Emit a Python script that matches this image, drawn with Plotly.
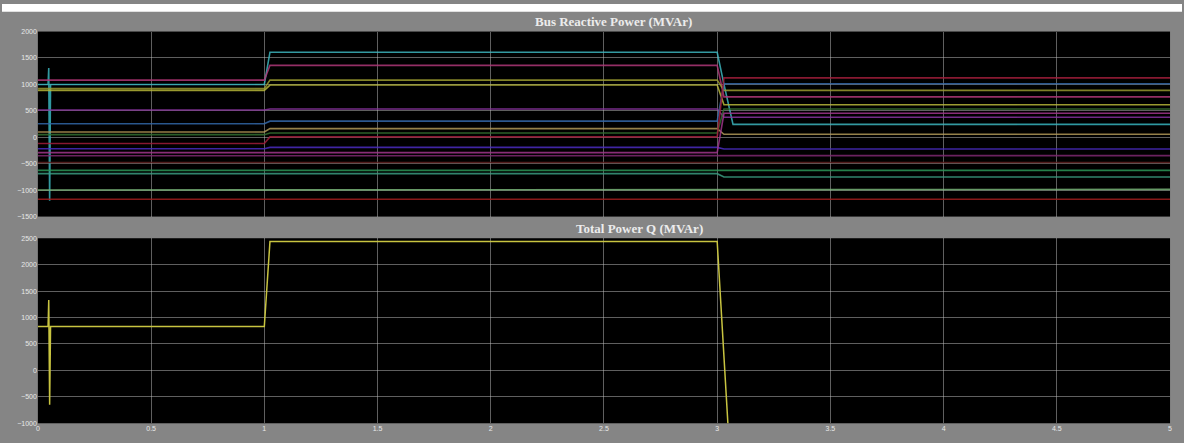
import plotly.graph_objects as go

# ---- data ----
time_bus = [0, 0.045, 0.048, 0.052, 0.056, 1.0, 1.025, 3.0, 3.03, 3.07, 5.0]

bus_colors = ["#3cb4bc", "#b03878", "#9a9a30", "#b8b83a", "#8a34a0", "#3468a8",
              "#b09858", "#347030", "#a01e3a", "#4a2cc0", "#a0358c", "#602020",
              "#2c9658", "#3a9c80", "#78b478", "#a01e1e", "#7e2870"]

bus_q = [
    [1000, 1000, 1310, -1200, 1000, 1000, 1609, 1609, 1000, 244, 244],
    [1082, 1082, 1082, 1082, 1082, 1082, 1361, 1361, 765, 765, 765],
    [920, 920, 920, 920, 920, 920, 1082, 1082, 888, 888, 888],
    [888, 888, 888, 888, 888, 888, 988, 988, 616, 616, 616],
    [516, 516, 516, 516, 516, 516, 535, 535, 380, 380, 380],
    [255, 255, 255, 255, 255, 255, 305, 305, 1013, 1013, 1013],
    [100, 100, 100, 100, 100, 100, 163, 163, 57, 57, 57],
    [50, 50, 50, 50, 50, 50, 82, 82, 535, 535, 535],
    [-117, -117, -117, -117, -117, -117, 7, 7, 1124, 1124, 1124],
    [-216, -216, -216, -216, -216, -216, -191, -191, -222, -222, -222],
    [-290, -290, -290, -290, -290, -290, -290, -290, 454, 454, 454],
    [-477, -477, -477, -477, -477, -477, -489, -489, -477, -477, -477],
    [-626, -626, -626, -626, -626, -626, -626, -626, -626, -626, -626],
    [-688, -688, -688, -688, -688, -688, -688, -688, -750, -750, -750],
    [-998, -998, -998, -998, -998, -998, -998, -998, -985, -985, -985],
    [-1172, -1172, -1172, -1172, -1172, -1172, -1172, -1172, -1172, -1172, -1172],
    [-350, -350, -350, -350, -350, -350, -350, -350, -346, -346, -346],
]

time_total = [0, 0.045, 0.048, 0.052, 0.056, 1.0, 1.025, 3.0, 3.05, 5.0]
total_q = [830, 830, 1330, -650, 830, 830, 2440, 2440, -1200, -1200]

x_ticks = [0, 0.5, 1, 1.5, 2, 2.5, 3, 3.5, 4, 4.5, 5]
x_labels = ["0", "0.5", "1", "1.5", "2", "2.5", "3", "3.5", "4", "4.5", "5"]
top_y_ticks = [-1500, -1000, -500, 0, 500, 1000, 1500, 2000]
bot_y_ticks = [-1000, -500, 0, 500, 1000, 1500, 2000, 2500]

W, H = 1184, 443
BG = "#858585"

fig = go.Figure()
for vals, col in zip(bus_q, bus_colors):
    fig.add_trace(go.Scatter(x=time_bus, y=vals, mode="lines",
                             line=dict(color=col, width=1.6), opacity=0.85,
                             xaxis="x", yaxis="y", showlegend=False))
fig.add_trace(go.Scatter(x=time_total, y=total_q, mode="lines",
                         line=dict(color="#c8c440", width=1.5),
                         xaxis="x2", yaxis="y2", showlegend=False))

xdom = [36 / W, 1172 / W]
grid = "rgba(190,190,190,0.5)"
tickfont = dict(family="Liberation Sans, Arial", size=7, color="#e8e8e8")

fig.update_layout(
    width=W, height=H, autosize=False,
    margin=dict(l=0, r=0, t=0, b=0),
    paper_bgcolor=BG, plot_bgcolor="#000000",
    xaxis=dict(domain=xdom, range=[0, 5], tickvals=x_ticks, showticklabels=False,
               showgrid=True, gridcolor=grid, gridwidth=1, zeroline=False,
               anchor="y", showline=False, ticks=""),
    yaxis=dict(domain=[1 - 216 / H, 1 - 28 / H], range=[-1500, 2000],
               tickvals=top_y_ticks, tickfont=tickfont, showgrid=True,
               gridcolor=grid, gridwidth=1, zeroline=False, anchor="x", ticks=""),
    xaxis2=dict(domain=xdom, range=[0, 5], tickvals=x_ticks, ticktext=x_labels,
                tickfont=tickfont, showgrid=True, gridcolor=grid, gridwidth=1,
                zeroline=False, anchor="y2", ticks=""),
    yaxis2=dict(domain=[1 - 426 / H, 1 - 238 / H], range=[-1000, 2500],
                tickvals=bot_y_ticks, tickfont=tickfont, showgrid=True,
                gridcolor=grid, gridwidth=1, zeroline=False, anchor="x2", ticks=""),
    shapes=[dict(type="rect", xref="paper", yref="paper", x0=0, x1=1,
                 y0=1 - 8 / H, y1=1, fillcolor="#ffffff", line=dict(width=0),
                 layer="below")],
    annotations=[
        dict(text="<b>Bus Reactive Power (MVAr)</b>", xref="paper", yref="paper",
             x=614 / W, y=1 - 18 / H, showarrow=False, xanchor="center", yanchor="middle",
             font=dict(family="Liberation Serif, Times New Roman", size=13, color="#ececec")),
        dict(text="<b>Total Power Q (MVAr)</b>", xref="paper", yref="paper",
             x=640 / W, y=1 - 228 / H, showarrow=False, xanchor="center", yanchor="middle",
             font=dict(family="Liberation Serif, Times New Roman", size=13, color="#ececec")),
    ],
)

fig.write_html("out.html")
